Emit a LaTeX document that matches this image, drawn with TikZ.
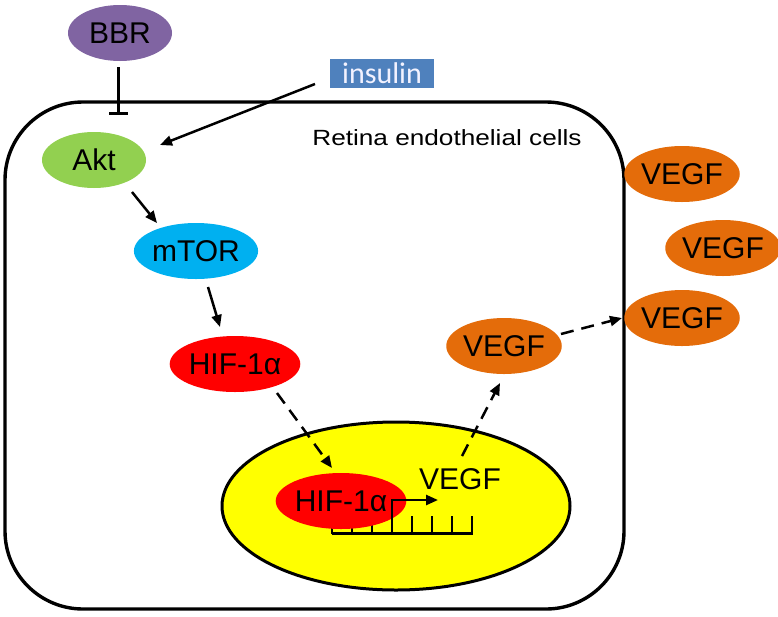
\documentclass[tikz,border=0pt]{standalone}
\usepackage{fontspec}
\setmainfont{Liberation Sans}
\newfontfamily\calib{Carlito}
\usetikzlibrary{arrows.meta,calc,shapes.geometric}
\definecolor{bbrc}{HTML}{8064A2}
\definecolor{aktc}{HTML}{92D050}
\definecolor{mtorc}{HTML}{00B0F0}
\definecolor{hifc}{HTML}{FF0000}
\definecolor{vegfc}{HTML}{E46C0A}
\definecolor{insc}{HTML}{4F81BD}
\definecolor{nucc}{HTML}{FFFF00}
\tikzset{
  blob/.style={ellipse, inner sep=0pt, minimum width=104pt, minimum height=56pt,
    font=\fontsize{30}{34}\selectfont, text=black},
  arr/.style={line width=2.5pt, -{Triangle[length=12pt,width=10pt]}},
  darr/.style={arr, dash pattern=on 13pt off 8pt},
}
\begin{document}
\begin{tikzpicture}[x=1pt,y=-1pt]
\useasboundingbox[fill=white] (0,0) rectangle (778,616);
% cell
\draw[line width=3.4pt, rounded corners=78pt] (5,102) rectangle (624,609);
\node[font=\fontsize{22}{26}\selectfont] (cellname) at (447,138) {\scalebox{1.19}[1]{Retina endothelial cells}};
% nucleus
\node[ellipse, draw, line width=3pt, fill=nucc, minimum width=348pt, minimum height=168pt, inner sep=0pt] (nuc) at (396,506) {};
% gene
\coordinate (gs) at (332,533);
\coordinate (ge) at (473,533);
\draw[line width=3pt] (gs) -- (ge);
\foreach \k in {0,...,7} {
  \draw[line width=2.8pt] ($(gs)+(20*\k,1)$) -- ++(0,-18);
}
\node[blob, fill=hifc] (hifn) at (341,501) {HIF-1α};
\draw[line width=2.5pt, -{Triangle[length=12pt,width=10pt]}] ($(gs)+(60,0)$) -- ++(0,-33) -- ++(46,0);
\node[font=\fontsize{30}{34}\selectfont] (vegfgene) at (460,479) {VEGF};
% nodes
\node[blob, fill=bbrc] (bbr) at (120,33) {BBR};
\node[fill=insc, text=white!95!blue, inner sep=0pt, minimum width=104pt, minimum height=29pt, font=\calib\fontsize{30}{34}\selectfont] (ins) at (382,73.5) {insulin};
\node[blob, fill=aktc] (akt) at (94,160) {Akt};
\node[blob, fill=mtorc] (mtor) at (196,251) {mTOR};
\node[blob, fill=hifc] (hif) at (235,364) {HIF-1α};
\node[blob, fill=vegfc] (vegfc1) at (504,346) {VEGF};
\node[blob, fill=vegfc, minimum width=102pt] (vegfo1) at (682,174) {VEGF};
\node[blob, fill=vegfc, minimum width=102pt] (vegfo2) at (723,248) {VEGF};
\node[blob, fill=vegfc, minimum width=102pt] (vegfo3) at (682,318) {VEGF};
% connectors
\draw[line width=3pt, -{Bar[width=19pt,line width=3pt]}] ($(bbr)+(-2,34)$) -- ($(akt)+(24,-45)$);
\draw[arr] ($(ins)+(-67,10.5)$) -- ($(akt)+(66,-15)$);
\draw[arr] ($(akt)+(38,32)$) -- ($(mtor)+(-39,-28)$);
\draw[arr] ($(mtor)+(12,36)$) -- ($(hif)+(-15,-37)$);
\draw[darr] ($(hif)+(42,29)$) -- ($(hifn)+(-9,-33)$);
\draw[darr] ($(vegfgene)+(2,-23)$) -- ($(vegfc1)+(-4,37)$);
\draw[darr] ($(vegfc1)+(57,-12)$) -- ($(vegfo3)+(-60,0)$);
\end{tikzpicture}
\end{document}
